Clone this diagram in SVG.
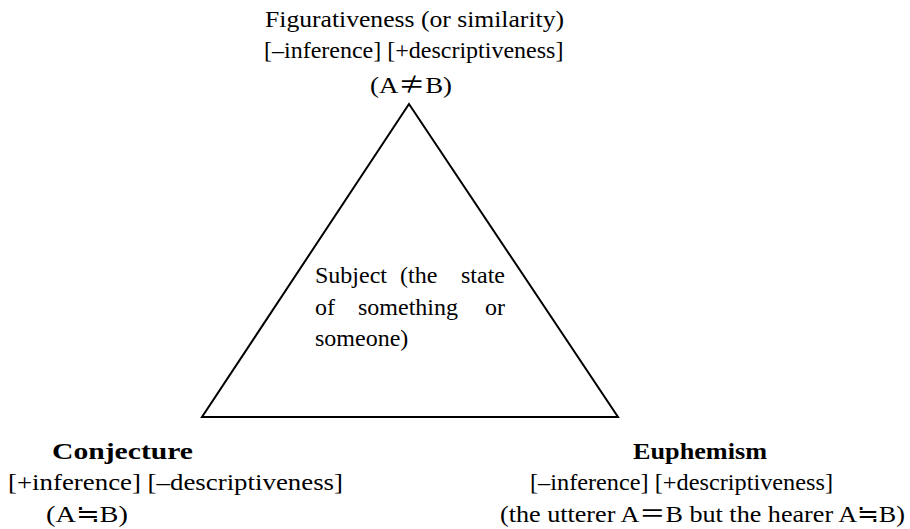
<svg xmlns="http://www.w3.org/2000/svg" width="910" height="529" viewBox="0 0 910 529">
<style>
text{font-family:"Liberation Serif","Times New Roman",serif;font-size:24px;fill:#000}
.b{font-weight:bold}
.m{text-anchor:middle}
.cjk{font-family:"Noto Sans CJK JP","Noto Sans CJK SC",sans-serif;font-weight:normal}
.tri{fill:none;stroke:#000;stroke-width:2;stroke-linejoin:miter}
</style>
<rect width="910" height="529" fill="#fff"/>
<g id="subject">
<polygon class="tri" points="409,104 202,417 618,417"/>
<text x="315" y="283">Subject</text><text x="400" y="283">(the</text><text x="505" y="283" text-anchor="end">state</text>
<text x="315" y="315">of</text><text x="358" y="315">something</text><text x="505" y="315" text-anchor="end">or</text>
<text x="315" y="346">someone)</text>
</g>
<g id="figurativeness">
<text x="265" y="27" font-size="25.5" textLength="299" lengthAdjust="spacingAndGlyphs">Figurativeness (or similarity)</text>
<text x="264" y="58">[–inference] [+descriptiveness]</text>
<text x="370" y="93" font-size="26" textLength="82" lengthAdjust="spacingAndGlyphs">(A<tspan class="cjk">≠</tspan>B)</text>
</g>
<g id="conjecture">
<text class="b" x="52" y="459" font-size="28" textLength="141" lengthAdjust="spacingAndGlyphs">Conjecture</text>
<text x="8" y="490" font-size="26.5" textLength="335" lengthAdjust="spacingAndGlyphs">[+inference] [–descriptiveness]</text>
<text x="46" y="522" font-size="26" textLength="82" lengthAdjust="spacingAndGlyphs">(A<tspan class="cjk">≒</tspan>B)</text>
</g>
<g id="euphemism">
<text class="b" x="633" y="459" font-size="26" textLength="134" lengthAdjust="spacingAndGlyphs">Euphemism</text>
<text x="530" y="490" textLength="303" lengthAdjust="spacingAndGlyphs">[–inference] [+descriptiveness]</text>
<text x="500" y="522" font-size="25.5" textLength="405" lengthAdjust="spacingAndGlyphs">(the utterer A<tspan class="cjk">＝</tspan>B but the hearer A<tspan class="cjk">≒</tspan>B)</text>
</g>
<g id="connectors"></g>
</svg>
